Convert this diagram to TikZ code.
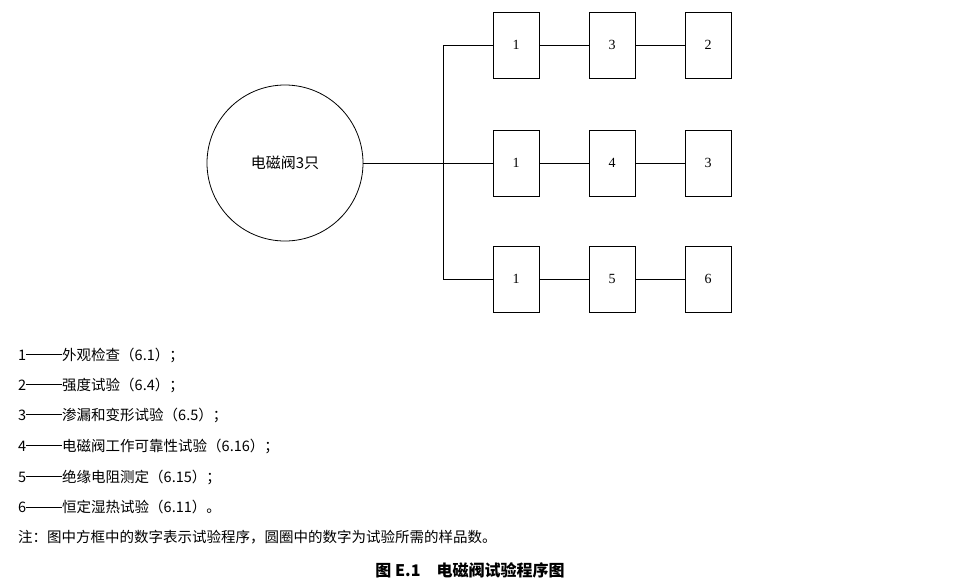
\documentclass[tikz,border=0pt]{standalone}
\usepackage{fontspec}
\setmainfont{Liberation Serif}
\newfontfamily\cjk{Noto Sans CJK SC}
\usetikzlibrary{positioning}
\newcommand{\ldash}{\raisebox{0.35em}{\rule{36pt}{0.6pt}}}
\tikzset{
  stepbox/.style={draw,thick,minimum width=46pt,minimum height=66pt,inner sep=0pt,font=\fontsize{14}{16}\selectfont},
  legend/.style={anchor=west,inner sep=0pt,font=\cjk\fontsize{14.5}{16}\selectfont}
}
\begin{document}
\begin{tikzpicture}[x=1pt,y=-1pt]
  \useasboundingbox (0,0) rectangle (959,584);
  % 样品
  \node[draw,thick,circle,minimum size=156pt,font=\cjk\fontsize{15}{16}\selectfont] (c) at (285,163) {电磁阀3只};
  % 方框
  \foreach \r/\y/\a/\b/\c in {1/45/1/3/2, 2/163/1/4/3, 3/279/1/5/6} {
    \node[stepbox] (b\r1) at (516,\y) {\a};
    \node[stepbox] (b\r2) at (612,\y) {\b};
    \node[stepbox] (b\r3) at (708,\y) {\c};
    \draw (b\r1) -- (b\r2);
    \draw (b\r2) -- (b\r3);
  }
  \coordinate (t1) at (443,45);
  \coordinate (t3) at (443,279);
  \draw (c.east) -- (b21.west);
  \draw (b11.west) -- (t1) -- (t3) -- (b31.west);
  % 说明
  \node[legend] (l1) at (18,355) {1\ldash 外观检查（6.1）；};
  \node[legend] (l2) at (18,385) {2\ldash 强度试验（6.4）；};
  \node[legend] (l3) at (18,415) {3\ldash 渗漏和变形试验（6.5）；};
  \node[legend] (l4) at (18,446) {4\ldash 电磁阀工作可靠性试验（6.16）；};
  \node[legend] (l5) at (18,477) {5\ldash 绝缘电阻测定（6.15）；};
  \node[legend] (l6) at (18,507) {6\ldash 恒定湿热试验（6.11）。};
  \node[legend] (l7) at (18,537) {注：图中方框中的数字表示试验程序，圆圈中的数字为试验所需的样品数。};
  \node[font=\cjk\bfseries\fontsize{16}{18}\selectfont] (cap) at (470,570) {图 E.1\quad 电磁阀试验程序图};
\end{tikzpicture}
\end{document}
